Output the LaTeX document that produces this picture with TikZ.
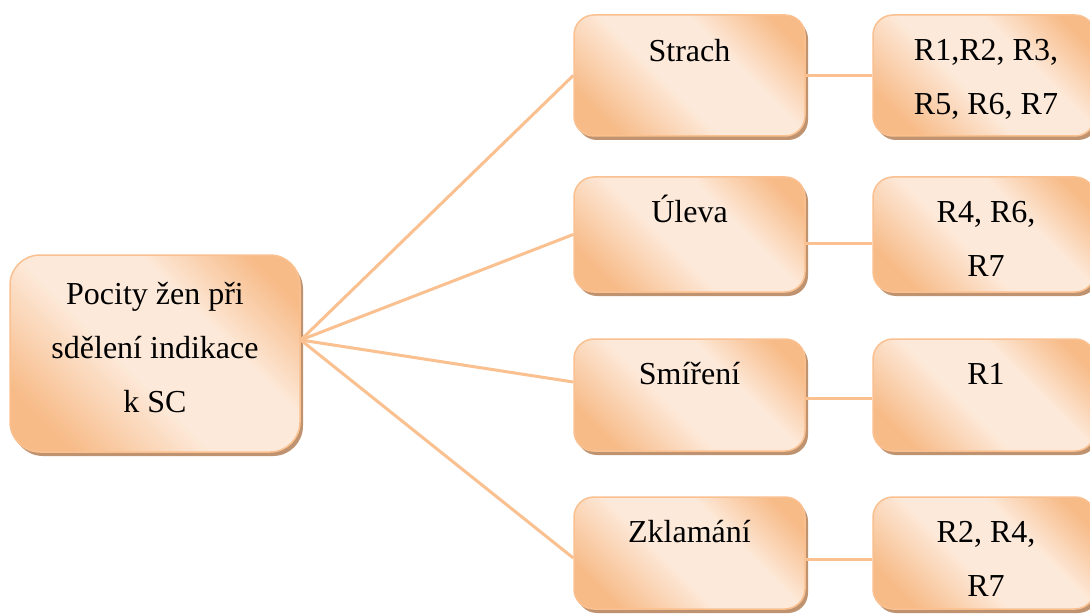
\documentclass[tikz,border=0pt]{standalone}
\usepackage{fontspec}
\setmainfont{Liberation Serif}
\newfontfamily\labelfont{Liberation Serif}
\usetikzlibrary{shadows}

\definecolor{peachline}{HTML}{FAC090}
\definecolor{peachdark}{HTML}{F7BB88}
\definecolor{peachlight}{HTML}{FDE9D9}
\definecolor{shadowbrown}{HTML}{BF9370}

% diagonal peach gradient: dark corners, light middle band
\pgfdeclareverticalshading{peachfill}{100bp}{%
  color(0bp)=(peachdark); color(24bp)=(peachdark);
  color(44bp)=(peachlight); color(62bp)=(peachlight);
  color(78bp)=(peachdark); color(100bp)=(peachdark)}

\tikzset{
  box/.style={rectangle, rounded corners=20pt, draw=peachline, line width=1.5pt,
    shading=peachfill, shading angle=-45, inner sep=0pt,
    drop shadow={shadow xshift=3pt, shadow yshift=-4pt, fill=shadowbrown, opacity=1}},
  lbl/.style={anchor=north, inner sep=0pt, align=center,
    font=\labelfont\fontsize{32}{54}\selectfont},
  link/.style={draw=peachline, line width=3pt}
}

\begin{document}
\begin{tikzpicture}[x=1pt, y=-1pt]
\useasboundingbox (0,0) rectangle (1090,615);
\fill[white] (0,0) rectangle (1090,615);

% root
\node[box, rounded corners=30pt, minimum width=290pt, minimum height=197pt] (root) at (155,353.5) {};
\node[lbl] (root-t) at ([yshift=-12pt]root.north) {\strut Pocity žen při\\sdělení indikace\\k SC};

% feelings
\node[box, minimum width=231pt, minimum height=121pt] (strach)   at (689.5,75.5) {};
\node[box, minimum width=231pt, minimum height=115pt] (uleva)    at (689.5,234.5) {};
\node[box, minimum width=231pt, minimum height=112pt] (smireni)  at (689.5,395) {};
\node[box, minimum width=231pt, minimum height=112pt] (zklamani) at (689.5,553) {};

\node[lbl] (strach-t)   at ([yshift=-9pt]strach.north)     {\strut Strach};
\node[lbl] (uleva-t)    at ([yshift=-8.5pt]uleva.north)    {\strut Úleva};
\node[lbl] (smireni-t)  at ([yshift=-8.5pt]smireni.north)  {\strut Smíření};
\node[lbl] (zklamani-t) at ([yshift=-8.5pt]zklamani.north) {\strut Zklamání};

% respondents
\node[box, minimum width=222pt, minimum height=121pt] (r1) at (984,75.5) {};
\node[box, minimum width=222pt, minimum height=115pt] (r2) at (984,234.5) {};
\node[box, minimum width=222pt, minimum height=112pt] (r3) at (984,395) {};
\node[box, minimum width=222pt, minimum height=112pt] (r4) at (984,553) {};

\node[lbl] (r1-t) at ([xshift=2pt,yshift=-8.5pt]r1.north) {\strut R1,R2, R3,\\R5, R6, R7};
\node[lbl] (r2-t) at ([xshift=2pt,yshift=-8.5pt]r2.north) {\strut R4, R6,\\R7};
\node[lbl] (r3-t) at ([xshift=2pt,yshift=-8.5pt]r3.north) {\strut R1};
\node[lbl] (r4-t) at ([xshift=2pt,yshift=-8.5pt]r4.north) {\strut R2, R4,\\R7};

% connectors
\coordinate (hub) at ([yshift=13.5pt]root.east);
\draw[link] (hub) -- (strach.west);
\draw[link] (hub) -- (uleva.west);
\draw[link] (hub) -- ([yshift=13pt]smireni.west);
\draw[link] (hub) -- ([yshift=-5pt]zklamani.west);

\draw[link] (strach.east) -- (r1.west);
\draw[link] ([yshift=-8.5pt]uleva.east) -- ([yshift=-8.5pt]r2.west);
\draw[link] ([yshift=-3pt]smireni.east) -- ([yshift=-3pt]r3.west);
\draw[link] ([yshift=-6pt]zklamani.east) -- ([yshift=-6pt]r4.west);
\end{tikzpicture}
\end{document}
